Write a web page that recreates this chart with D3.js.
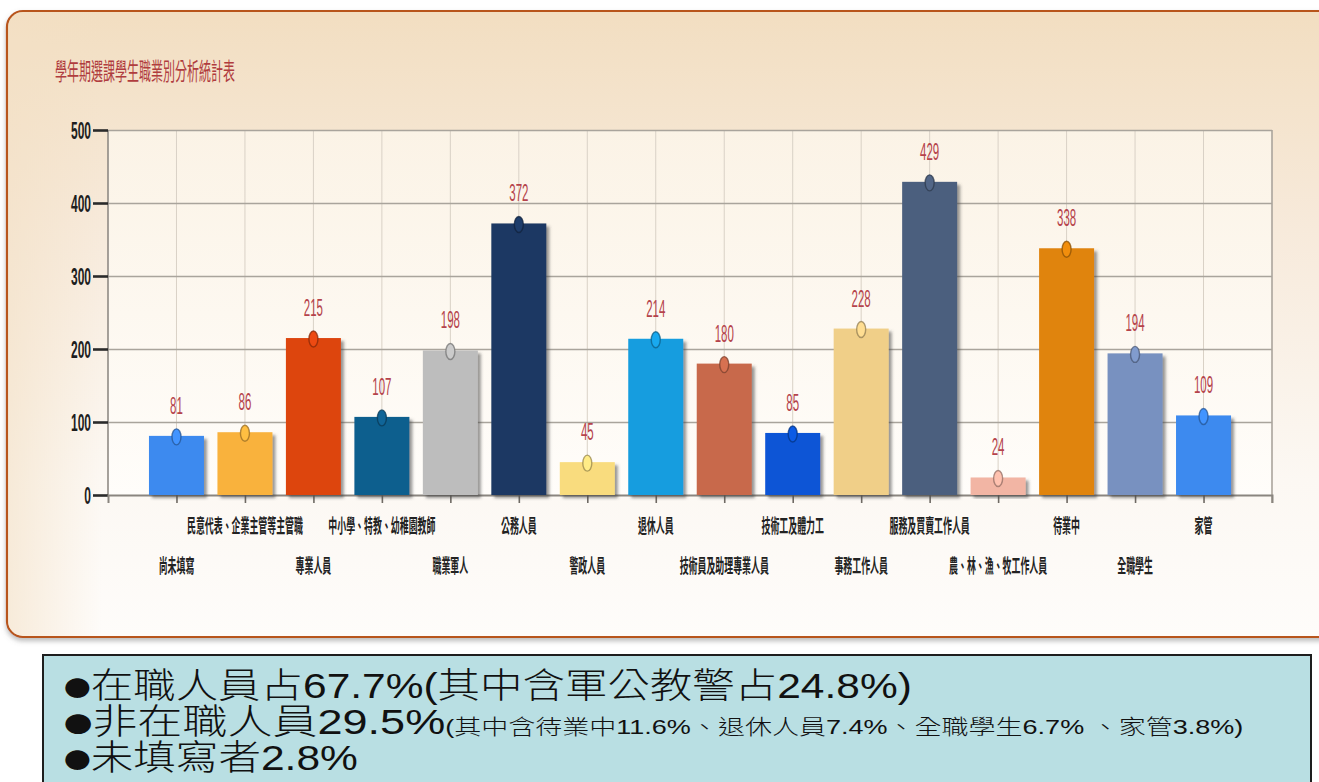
<!DOCTYPE html>
<html>
<head>
<meta charset="utf-8">
<script src="https://cdn.jsdelivr.net/npm/d3@7"></script>
<style>
  html, body { margin: 0; padding: 0; background: #ffffff; }
  svg { display: block; }
</style>
</head>
<body>
<svg id="chart" width="1319" height="782"></svg>
<script>
// ---------------- DATA ----------------
const chartTitle = "學年期選課學生職業別分析統計表";
const categories = [
  "尚未填寫", "民意代表、企業主管等主管職", "專業人員", "中小學、特教、幼稚園教師",
  "職業軍人", "公務人員", "警政人員", "退休人員", "技術員及助理專業人員",
  "技術工及體力工", "事務工作人員", "服務及買賣工作人員", "農、林、漁、牧工作人員",
  "待業中", "全職學生", "家管"
];
const values = [81, 86, 215, 107, 198, 372, 45, 214, 180, 85, 228, 429, 24, 338, 194, 109];
const barColors = [
  "#3d8aef", "#f9b23d", "#dd4511", "#0f5e8e", "#bdbdbd", "#1c3964", "#f9dc7e", "#179ddf",
  "#c8694b", "#0a55d6", "#f0cf88", "#4c5f7e", "#f2b5a4", "#e0840c", "#7891c0", "#3d8aef"
];
const yTicks = [0, 100, 200, 300, 400, 500];
const bullet = "●";
const summaryLine1 = "在職人員占67.7%(其中含軍公教警占24.8%)";
const summaryLine2Big = "非在職人員29.5%";
const summaryLine2Small = "(其中含待業中11.6%、退休人員7.4%、全職學生6.7% 、家管3.8%)";
const summaryLine3 = "未填寫者2.8%";

// ---------------- LAYOUT ----------------
const svg = d3.select("#chart");
const plot = { left: 108, right: 1272, top: 130, bottom: 495 };

const x = d3.scalePoint().domain(categories).range([plot.left, plot.right]).padding(1);
const y = d3.scaleLinear().domain([0, 500]).range([plot.bottom, plot.top]);

const defs = svg.append("defs");
const pg = defs.append("linearGradient").attr("id", "panelGrad").attr("x1", 0).attr("y1", 0).attr("x2", 0).attr("y2", 1);
pg.append("stop").attr("offset", "0%").attr("stop-color", "#f2dec1");
pg.append("stop").attr("offset", "35%").attr("stop-color", "#f7eadb");
pg.append("stop").attr("offset", "75%").attr("stop-color", "#fcf8f3");
pg.append("stop").attr("offset", "100%").attr("stop-color", "#fefcfa");

const ph = defs.append("linearGradient").attr("id", "panelSide").attr("x1", 0).attr("y1", 0).attr("x2", 1).attr("y2", 0);
ph.append("stop").attr("offset", "0%").attr("stop-color", "#f3e0c5").attr("stop-opacity", 0.6);
ph.append("stop").attr("offset", "7%").attr("stop-color", "#f3e0c5").attr("stop-opacity", 0);

const ag = defs.append("linearGradient").attr("id", "plotGrad").attr("x1", 0).attr("y1", 0).attr("x2", 0).attr("y2", 1);
ag.append("stop").attr("offset", "0%").attr("stop-color", "#fbf3e6");
ag.append("stop").attr("offset", "100%").attr("stop-color", "#fffdfa");

const sh = defs.append("filter").attr("id", "barShadow").attr("x", "-10%").attr("y", "-10%").attr("width", "130%").attr("height", "130%");
sh.append("feDropShadow").attr("dx", 3).attr("dy", 3).attr("stdDeviation", 1.5)
  .attr("flood-color", "#444").attr("flood-opacity", 0.55);

const psh = defs.append("filter").attr("id", "panelShadow").attr("x", "-5%").attr("y", "-5%").attr("width", "110%").attr("height", "115%");
psh.append("feDropShadow").attr("dx", 0).attr("dy", 3).attr("stdDeviation", 2.5)
  .attr("flood-color", "#777").attr("flood-opacity", 0.5);

// Panel
svg.append("rect")
  .attr("x", 7).attr("y", 11).attr("width", 1340).attr("height", 626)
  .attr("rx", 16).attr("ry", 16)
  .attr("fill", "url(#panelGrad)")
  .attr("stroke", "#b8541b").attr("stroke-width", 2.2)
  .attr("filter", "url(#panelShadow)");
svg.append("rect")
  .attr("x", 8).attr("y", 12).attr("width", 1338).attr("height", 624)
  .attr("rx", 15).attr("ry", 15)
  .attr("fill", "url(#panelSide)");

// Title
svg.append("text")
  .attr("transform", "translate(55,80) scale(0.5,1)")
  .attr("font-family", "'Noto Sans CJK TC', 'Noto Sans CJK SC', sans-serif")
  .attr("font-size", 24)
  .attr("fill", "#b03c3e")
  .text(chartTitle);

// Plot background
svg.append("rect")
  .attr("x", plot.left).attr("y", plot.top)
  .attr("width", plot.right - plot.left).attr("height", plot.bottom - plot.top)
  .attr("fill", "url(#plotGrad)");

// Vertical grid lines through category centres
svg.append("g").selectAll("line").data(categories).join("line")
  .attr("x1", d => x(d)).attr("x2", d => x(d))
  .attr("y1", plot.top).attr("y2", plot.bottom)
  .attr("stroke", "#d9d1c6").attr("stroke-width", 1);

// Horizontal grid lines
svg.append("g").selectAll("line").data(yTicks.filter(t => t > 0)).join("line")
  .attr("x1", plot.left).attr("x2", plot.right)
  .attr("y1", d => y(d) + 0.5).attr("y2", d => y(d) + 0.5)
  .attr("stroke", "#a9a49c").attr("stroke-width", 1.6);

// Right border & left axis line
svg.append("line").attr("x1", plot.right).attr("x2", plot.right)
  .attr("y1", plot.top).attr("y2", plot.bottom + 8)
  .attr("stroke", "#aaa49c").attr("stroke-width", 1.6);
svg.append("line").attr("x1", plot.left).attr("x2", plot.left)
  .attr("y1", plot.top).attr("y2", plot.bottom)
  .attr("stroke", "#8f8a84").attr("stroke-width", 1.6);

// Y axis (ticks + labels)
const yAxis = svg.append("g").attr("transform", `translate(${plot.left},0)`)
  .call(d3.axisLeft(y).tickValues(yTicks).tickSize(15).tickFormat(d3.format("d")));
yAxis.select(".domain").remove();
yAxis.selectAll(".tick line").attr("stroke", "#2a2a2a").attr("stroke-width", 2.6);
yAxis.selectAll(".tick text")
  .attr("x", 0).attr("dy", "0.36em")
  .attr("transform", "translate(-17,0) scale(0.5,1)")
  .attr("font-family", "'Liberation Sans', Arial, sans-serif")
  .attr("font-weight", "bold")
  .attr("font-size", 24)
  .attr("fill", "#1e1e1e")
  .attr("text-anchor", "end");

// X axis
const xAxis = svg.append("g").attr("transform", `translate(0,${plot.bottom})`)
  .call(d3.axisBottom(x).tickSize(8).tickFormat(""));
xAxis.select(".domain").attr("stroke", "#8a857f").attr("stroke-width", 2);
xAxis.selectAll(".tick line").attr("stroke", "#6f6a64").attr("stroke-width", 1.6);

// Bars
svg.append("g").selectAll("rect").data(values).join("rect")
  .attr("x", (d, i) => x(categories[i]) - 27.5)
  .attr("width", 55)
  .attr("y", d => y(d))
  .attr("height", d => y(0) - y(d))
  .attr("fill", (d, i) => barColors[i])
  .attr("filter", "url(#barShadow)");

// Markers
svg.append("g").selectAll("ellipse").data(values).join("ellipse")
  .attr("cx", (d, i) => x(categories[i]))
  .attr("cy", d => y(d) + 1)
  .attr("rx", 4.5).attr("ry", 8)
  .attr("fill", (d, i) => d3.color(barColors[i]).brighter(0.2))
  .attr("stroke", (d, i) => d3.color(barColors[i]).darker(1.4))
  .attr("stroke-opacity", 0.75)
  .attr("stroke-width", 1.4);

// Value labels
svg.append("g").selectAll("text").data(values).join("text")
  .attr("transform", (d, i) => `translate(${x(categories[i])},${y(d) - 22}) scale(0.5,1)`)
  .attr("text-anchor", "middle")
  .attr("font-family", "'Liberation Sans', Arial, sans-serif")
  .attr("font-size", 23)
  .attr("fill", "#b5434b")
  .text(d => d);

// Category labels (two staggered rows)
svg.append("g").selectAll("text").data(categories).join("text")
  .attr("transform", (d, i) => `translate(${x(d)},${i % 2 === 1 ? 533 : 573}) scale(0.47,1)`)
  .attr("text-anchor", "middle")
  .attr("font-family", "'Noto Sans CJK TC', 'Noto Sans CJK SC', sans-serif")
  .attr("font-weight", "bold")
  .attr("font-size", 19)
  .attr("fill", "#222")
  .text(d => d);

// Summary box
svg.append("rect")
  .attr("x", 43).attr("y", 655).attr("width", 1268).attr("height", 140)
  .attr("fill", "#b9dfe3")
  .attr("stroke", "#1e1e1e").attr("stroke-width", 2);

const sumFont = "'Liberation Sans', Arial, 'Noto Sans CJK TC', sans-serif";
const cjkFont = "'Noto Sans CJK TC', sans-serif";
function fitLine(sel, targetWidth) {
  const w = sel.node().getComputedTextLength();
  const sx = targetWidth / w;
  const t = sel.attr("data-t");
  sel.attr("transform", `${t} scale(${sx},1)`);
}
function addLine(yBase, big, small, endX) {
  const t = svg.append("text")
    .attr("data-t", `translate(64,${yBase})`)
    .attr("font-family", sumFont).attr("font-size", 35).attr("font-weight", 300).attr("fill", "#111");
  t.append("tspan").attr("font-family", cjkFont).attr("font-size", 22).attr("dy", -2).text(bullet);
  t.append("tspan").attr("dy", 2).text(big);
  if (small) t.append("tspan").attr("font-size", 21).text(small);
  fitLine(t, endX - 64);
}
addLine(698, summaryLine1, null, 912);
addLine(734, summaryLine2Big, summaryLine2Small, 1244);
addLine(770, summaryLine3, null, 358);
</script>
</body>
</html>
